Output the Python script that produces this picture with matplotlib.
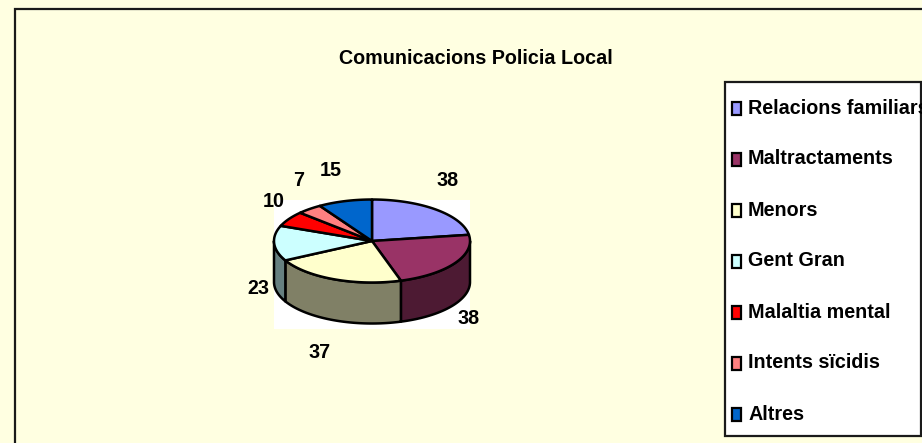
import numpy as np
import matplotlib
matplotlib.use("Agg")
import matplotlib.pyplot as plt
from matplotlib.patches import Rectangle, Polygon
from matplotlib import font_manager as fm

categories = ["Relacions familiars", "Maltractaments", "Menors", "Gent Gran",
              "Malaltia mental", "Intents sïcidis", "Altres"]
values = [38, 38, 37, 23, 10, 7, 15]
colors = ["#9999FF", "#993366", "#FFFFCC", "#CCFFFF", "#FF0000", "#FF8080", "#0066CC"]
side_colors = ["#4D4D80", "#4D1A33", "#808066", "#668080", "#800000", "#804040", "#003366"]
title = "Comunicacions Policia Local"

BG = "#FFFFE1"
installed = {f.name for f in fm.fontManager.ttflist}
family = "Liberation Sans Narrow" if "Liberation Sans Narrow" in installed else "Liberation Sans"
plt.rcParams["font.family"] = [family, "DejaVu Sans"]
plt.rcParams["font.weight"] = "bold"

fig = plt.figure(figsize=(9.22, 4.43), dpi=100, facecolor=BG)
ax = fig.add_axes([0, 0, 1, 1])
ax.set_xlim(0, 922)
ax.set_ylim(443, 0)
ax.axis("off")

# chart frame, running off the right and bottom of the picture
ax.add_patch(Rectangle((14.5, 9), 950, 480, fc=BG, ec="#1a1a1a", lw=1.6, zorder=1))
ax.text(476, 58, title, fontsize=14.2, ha="center", va="center", color="black", zorder=5)

# white plot area behind the pie
ax.add_patch(Rectangle((274, 200), 196, 129, fc="white", ec="none", zorder=2))

cx, cy, rx, ry, depth = 372, 241, 98, 41.5, 41
total = sum(values)
edges = np.cumsum([0] + values) / total * 2 * np.pi  # clockwise from 12 o'clock


def rim(a0, a1, dy=0.0):
    t = np.linspace(a0, a1, 90)
    return np.column_stack([cx + rx * np.sin(t), cy - ry * np.cos(t) + dy])


# outer wall: only the part facing the viewer (3 to 9 o'clock)
for i in range(len(values)):
    a0 = max(edges[i], np.pi / 2)
    a1 = min(edges[i + 1], 3 * np.pi / 2)
    if a1 > a0:
        top = rim(a0, a1)
        bottom = rim(a0, a1, depth)[::-1]
        ax.add_patch(Polygon(np.vstack([top, bottom]), closed=True, fc=side_colors[i],
                             ec="black", lw=1.8, joinstyle="round", zorder=3))

# top faces
for i in range(len(values)):
    pts = np.vstack([[cx, cy], rim(edges[i], edges[i + 1])])
    ax.add_patch(Polygon(pts, closed=True, fc=colors[i], ec="black", lw=1.8,
                         joinstyle="round", zorder=4))

label_xy = [(448, 181), (469, 319), (320, 352), (258, 288), (274, 201), (299, 180), (331, 170)]
for v, (x, y) in zip(values, label_xy):
    ax.text(x, y, str(v), fontsize=14.2, ha="center", va="center", color="black", zorder=6)

# legend box
ax.add_patch(Rectangle((724.5, 81.5), 196.5, 354, fc="white", ec="#1a1a1a", lw=1.6, zorder=5))
y0, step = 108, 51
for i, (name, col) in enumerate(zip(categories, colors)):
    y = y0 + i * step
    ax.add_patch(Rectangle((731.5, y - 6.5), 9.5, 13, fc=col, ec="black", lw=1.6, zorder=6))
    ax.text(748, y, name, fontsize=14.2, ha="left", va="center", color="black", zorder=6)

fig.savefig("out.png", dpi=100, facecolor=BG)
